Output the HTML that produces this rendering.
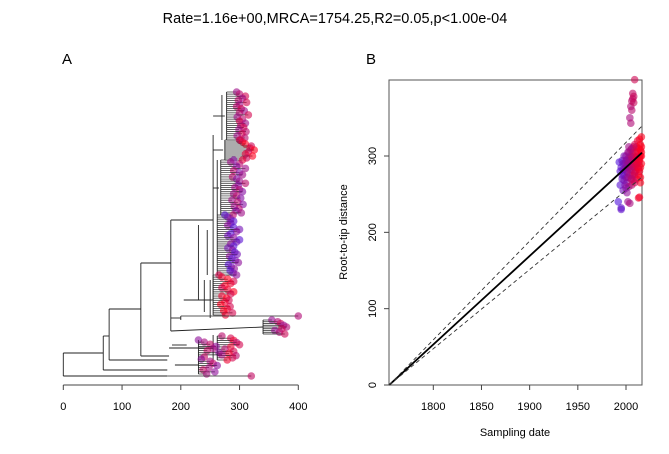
<!DOCTYPE html>
<html><head><meta charset="utf-8"><style>
body{margin:0;background:#fff;}
svg{display:block;font-family:"Liberation Sans",sans-serif;}
</style></head><body>
<svg id="c" width="669" height="454">
<text x="335" y="23" text-anchor="middle" font-size="14.5">Rate=1.16e+00,MRCA=1754.25,R2=0.05,p&lt;1.00e-04</text>
<text x="62" y="64" font-size="15">A</text>
<text x="366" y="64" font-size="15">B</text>
<g id="tree"></g>
<g id="scat"></g>
</svg>
<script>
// ---------- data ----------
const treeTicks=[0,100,200,300,400];
const dateTicks=[1800,1850,1900,1950,2000];
const distTicks=[0,100,200,300];
const mrca=1754.25, rate=1.16;
// backbone segments: [dist0, y0, dist1, y1]
const backbone=[[0,353,0,376],[0,376,177,376],[0,353,68,353],[68,336,68,370],[68,370,177,370],[68,336,78,336],[78,309,78,360],[78,360,177,360],[78,309,132,309],[132,263,132,356],[132,356,180,356],[132,263,183,263],[183,220,183,331],[183,331,340,327],[183,220,255,220],[255,135,255,300],[255,300,250,300],[183,318,200,318],[200,316,200,320],[250,280,250,318],[255,150,272,150],[255,116,275,116],[255,188,265,188],[270,95,270,140],[262,160,262,215],[245,230,245,275],[255,335,255,360],[180,348,255,348],[230,225,230,300],[240,280,240,312],[205,300,250,300],[185,345,210,345],[190,365,230,365]];
// clades: [yTop,yBot,stemDist,colour 0=blue..1=red]
const clades=[[92,140,278,0.6],[140,160,275,0.85],[160,215,268,0.45],[215,275,262,0.2],[275,315,255,0.9],[316,316,200,0.7],[320,334,340,0.55],[336,360,262,0.75],[340,374,230,0.5],[376,376,177,0.8]];
const cladeTips=[
[295,300,310,305,298,312,300,295,303,308,300,315,296,305,300,310,302,307,299,311,304,296,309,301],
[300,305,310,320,318,325,315,310,322,312,305],
[290,285,300,295,310,290,300,305,288,295,300,310,298,292,300,305,290,295,302,287,297,306,291,299,294,303,289],
[275,280,285,290,285,280,290,300,295,285,280,290,300,295,285,290,280,288,292,296,283,287,293,298,281,286,291,284,289,295],
[265,270,280,290,285,275,270,280,290,285,270,278,282,275,268,284,279,273,288,276],
[400],
[355,365,370,375,380,372,360,368,377],
[270,285,290,295,300,285,275,290,282,294,288,279],
[230,240,250,260,255,245,265,270,240,235,250,255,262,248,238,258,244],
[320]];
// scatter: dates and root-to-tip distances
const dates=[1992,1993,1994,1995,1995,1996,1996,1997,1997,1998,1998,1999,1999,2000,2000,2000,2001,2001,2001,2002,2002,2002,2003,2003,2003,2004,2004,2004,2005,2005,2005,2006,2006,2006,2007,2007,2007,2008,2008,2008,2009,2009,2009,2010,2010,2010,2011,2011,2011,2012,2012,2012,2013,2013,2013,2014,2014,2014,2015,2015,2015,2016,2016,2016,2004,2005,2005,2006,2006,2007,2007,2008,2008,2009,2003,2002,1995,2001,2013,2014,2015,1994,1996,1997,1998,1999,2000,2001,2002,2003,2004,2005,2006,2007,2008,2009,2010,2011,2012,2013,2014,2015,2016,2000,2003,2006,2009,2012,2015,2016];
const dists=[240,292,262,230,285,294,270,282,255,300,275,290,262,285,272,300,295,265,280,240,290,278,305,260,285,238,295,275,300,270,288,310,282,262,296,275,305,285,268,300,290,315,275,305,280,295,312,290,270,300,285,320,292,310,275,322,298,280,315,300,285,325,305,290,350,343,365,360,372,375,382,370,378,400,298,305,232,252,245,246,265,280,275,290,268,283,294,288,272,292,282,308,298,286,312,278,288,298,306,283,295,308,312,258,312,270,265,290,272,300];

const S=document.getElementById('c');const NS='http://www.w3.org/2000/svg';
function mk(p,t,a){const e=document.createElementNS(NS,t);for(const k in a)e.setAttribute(k,a[k]);p.appendChild(e);return e;}
function col(t,a){const r=Math.round(80+175*t),b=Math.round(220*(1-t)+30*t),g=Math.round(20*(1-t));return `rgba(${r},${g},${b},${a})`;}
// ---------- tree ----------
const T=document.getElementById('tree');
const tx=d=>63.3+d*0.5875;
backbone.forEach(s=>{const l=mk(T,'line',{x1:tx(s[0]),y1:s[1],x2:tx(s[2]),y2:s[3],stroke:'#222','stroke-width':0.9});

});
clades.forEach((c,i)=>{const tips=cladeTips[i];const n=tips.length;
 if(n>1){mk(T,'line',{x1:tx(c[2]),y1:c[0],x2:tx(c[2]),y2:c[1],stroke:'#222','stroke-width':0.9});}
 tips.forEach((d,j)=>{const y=n>1?c[0]+(c[1]-c[0])*j/(n-1):c[0];
  mk(T,'line',{x1:tx(c[2]),y1:y,x2:tx(d),y2:y,stroke:'#222','stroke-width':0.7});
  const t=Math.max(0,Math.min(1,c[3]+((j%3)-1)*0.15));
  const p=mk(T,'circle',{cx:tx(d),cy:y,r:3.8,fill:col(t,0.6)});
  
  });});
mk(T,'line',{x1:tx(0),y1:385,x2:tx(400),y2:385,stroke:'#444'});
treeTicks.forEach(v=>{mk(T,'line',{x1:tx(v),y1:385,x2:tx(v),y2:390,stroke:'#444'});
 const t=mk(T,'text',{x:tx(v),y:410,'text-anchor':'middle','font-size':11});t.textContent=v;
 
 });
// ---------- scatter ----------
const G=document.getElementById('scat');
const X0=389,X1=642,Y0=80,Y1=385;
const sx=d=>433.3+(d-1800)*0.9635, sy=v=>385-v*0.7633;
const fr=mk(G,'rect',{x:X0,y:Y0,width:X1-X0,height:Y1-Y0,fill:'none',stroke:'#555'});


dates.forEach((d,i)=>{const t=Math.max(0,Math.min(1,(d-1993)/22));
 const p=mk(G,'circle',{cx:sx(d),cy:sy(dists[i]),r:3.8,fill:col(t,0.6)});
 
 });
const xEnd=2016.6;
[[rate,'none',1.8],[rate*1.115,'4,3',0.9],[rate*0.895,'4,3',0.9]].forEach(r=>{
 const l=mk(G,'line',{x1:sx(mrca),y1:sy(0),x2:sx(xEnd),y2:sy(r[0]*(xEnd-mrca)),stroke:r[1]=='none'?'#000':'#333','stroke-width':r[2],'stroke-dasharray':r[1]});
 
 });
dateTicks.forEach(v=>{mk(G,'line',{x1:sx(v),y1:Y1,x2:sx(v),y2:Y1+5,stroke:'#444'});
 const t=mk(G,'text',{x:sx(v),y:410,'text-anchor':'middle','font-size':11});t.textContent=v;
 
 });
distTicks.forEach(v=>{mk(G,'line',{x1:X0,y1:sy(v),x2:X0-5,y2:sy(v),stroke:'#444'});
 const t=mk(G,'text',{x:0,y:0,'text-anchor':'middle','font-size':11,transform:`translate(376,${sy(v)}) rotate(-90)`});t.textContent=v;
 
 });
const xl=mk(G,'text',{x:515,y:436,'text-anchor':'middle','font-size':11});xl.textContent='Sampling date';


const yl=mk(G,'text',{x:0,y:0,'text-anchor':'middle','font-size':11,transform:'translate(347,232) rotate(-90)'});yl.textContent='Root-to-tip distance';


</script>
</body></html>
